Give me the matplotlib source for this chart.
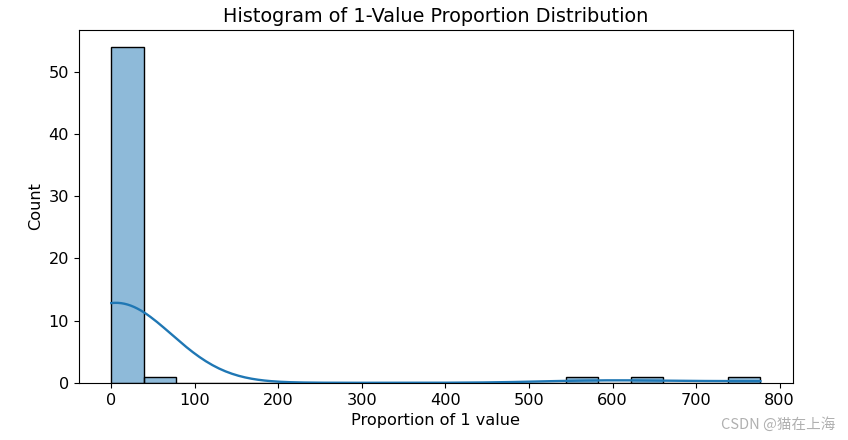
import numpy as np
import matplotlib.pyplot as plt

# values (54 in first bin, one each elsewhere)
small_vals = [0]*30 + [1, 1, 2, 2, 3, 3, 4, 5, 5, 6, 7, 8, 9, 10, 11, 12, 14, 16, 18, 20, 23, 26, 30, 35]
large_vals = [48, 560, 640, 777]
data = np.array(small_vals + large_vals, dtype=float)
n_bins = 20

plt.rcParams['font.family'] = ['DejaVu Sans']
plt.rcParams['font.size'] = 11.6
fig, ax = plt.subplots(figsize=(8.48, 4.4), dpi=100)
fig.subplots_adjust(left=0.093, right=0.935, top=0.932, bottom=0.13)

counts, edges = np.histogram(data, bins=n_bins)
width = edges[1] - edges[0]
ax.bar(edges[:-1], counts, width=width, align='edge',
       facecolor=(0.122, 0.467, 0.706, 0.5), edgecolor='black', linewidth=1)

# gaussian kde, scott's rule, scaled to counts
bw = data.std(ddof=1) * len(data) ** (-1 / 5)
grid = np.linspace(data.min(), data.max(), 200)
dens = np.exp(-0.5 * ((grid[:, None] - data[None, :]) / bw) ** 2).sum(axis=1)
dens = dens / (len(data) * bw * np.sqrt(2 * np.pi))
ax.plot(grid, dens * len(data) * width, color='#1f77b4', linewidth=1.7)

ax.set_title('Histogram of 1-Value Proportion Distribution', fontsize=13.9)
ax.set_xlabel('Proportion of 1 value')
ax.set_ylabel('Count')
ax.set_xticks([0, 100, 200, 300, 400, 500, 600, 700, 800])
ax.set_yticks([0, 10, 20, 30, 40, 50])

fig.text(0.985, 0.018, 'CSDN @猫在上海', ha='right', va='bottom', fontsize=10.5,
         color='#b0b0b0', family=['Noto Sans CJK SC', 'DejaVu Sans'])

plt.savefig('out.png')
